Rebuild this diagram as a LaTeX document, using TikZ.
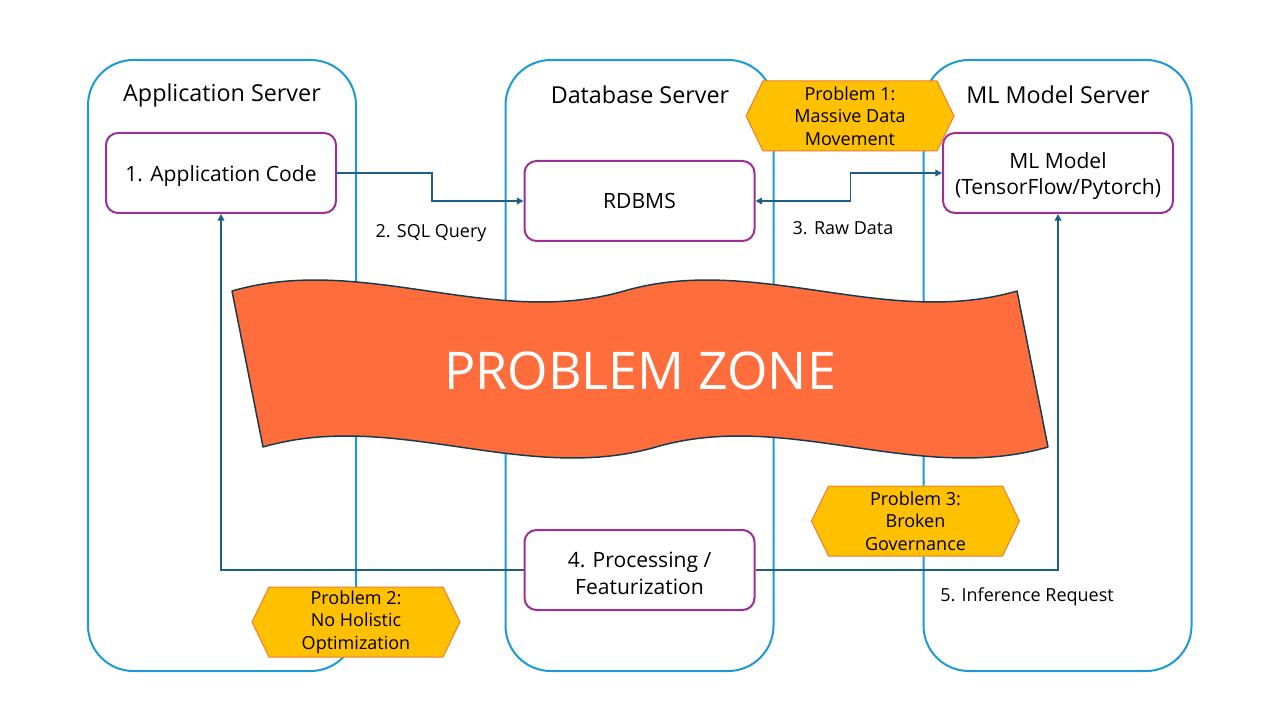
\documentclass[tikz,border=0pt]{standalone}
\usepackage{fontspec}
\setmainfont{Open Sans}
\usetikzlibrary{arrows.meta,calc}
\definecolor{srvblue}{HTML}{1B9AD6}
\definecolor{boxpurple}{HTML}{9E2F94}
\definecolor{arrowblue}{HTML}{1F5F86}
\definecolor{zonefill}{HTML}{FF6D3C}
\definecolor{zoneline}{HTML}{17394D}
\definecolor{hexfill}{HTML}{FFC000}
\definecolor{hexline}{HTML}{ED7D31}
\newcommand{\myhexagon}[2]{\filldraw[hexstyle] (#1-104,#2) -- (#1-87,#2-35) -- (#1+87,#2-35) -- (#1+104,#2) -- (#1+87,#2+35) -- (#1-87,#2+35) -- cycle;}
\newcommand{\lowstrut}{\rule{0pt}{16.5pt}}
\begin{document}
\begin{tikzpicture}[x=0.75pt,y=-0.75pt,
  server/.style={draw=srvblue, line width=1.5pt, rounded corners=34pt, minimum width=201pt, minimum height=458.25pt, inner sep=0pt},
  srvtitle/.style={font=\fontsize{17.5}{21}\selectfont, inner sep=0pt},
  procbox/.style={draw=boxpurple, fill=white, line width=1.5pt, rounded corners=9pt, minimum width=172.5pt, minimum height=60pt, align=center, font=\fontsize{15.8}{20}\selectfont, inner sep=2pt},
  conn/.style={draw=arrowblue, line width=1.2pt, -{Triangle[length=5pt,width=5pt]}},
  lab/.style={font=\fontsize{13.5}{17}\selectfont, inner sep=0pt},
  hexnode/.style={align=center, font=\fontsize{13.5}{17}\selectfont, inner sep=0pt},
  hexstyle/.style={fill=hexfill, draw=hexline, line width=0.75pt},
  zone/.style={fill=zonefill, draw=zoneline, line width=1.1pt, line join=round}]
\fill[white] (0,0) rectangle (1280,720);
\useasboundingbox (0,0) rectangle (1280,720);

% servers
\node[server] (appsrv) at (222,365.5) {};
\node[server] (dbsrv) at (639.5,365.5) {};
\node[server] (mlsrv) at (1057.5,365.5) {};
\node[srvtitle] (apptitle) at (222,95) {Application Server};
\node[srvtitle] (dbtitle) at (640,95) {Database Server};
\node[srvtitle] (mltitle) at (1058,95) {ML Model Server};

% boxes
\node[procbox] (code) at (221,173) {\lowstrut 1. Application Code};
\node[procbox] (rdbms) at (639.5,201) {RDBMS};
\node[procbox] (mlm) at (1058,173) {\lowstrut ML Model\\(TensorFlow/Pytorch)};
\node[procbox] (proc) at (639.5,570) {\lowstrut 4. Processing /\\Featurization};

% connectors
\draw[conn] (code.east) -- ++(95,0) |- (rdbms.west);
\draw[conn,{Triangle[length=5pt,width=5pt]}-{Triangle[length=5pt,width=5pt]}] (rdbms.east) -- ++(95,0) |- (mlm.west);
\draw[conn] (proc.west) -| (code.south);
\draw[conn] (proc.east) -| (mlm.south);
\node[lab] (l2) at (431,233) {2. SQL Query};
\node[lab] (l3) at (843,228) {3. Raw Data};
\node[lab] (l5) at (1027,597) {5. Inference Request};

% problem zone banner
\filldraw[zone] (232,291) .. controls (363,253) and (493,329) .. (624,291) .. controls (755,253) and (886,329) .. (1017,291) -- (1048,447) .. controls (917,485) and (787,409) .. (656,447) .. controls (525,485) and (394,409) .. (263,447) -- cycle;
\node[text=white, font=\fontsize{39}{44}\selectfont, inner sep=0pt] (zonetext) at (640,371) {PROBLEM ZONE};

% problems
\myhexagon{850}{116}
\node[hexnode] (p1) at (850,116) {Problem 1:\\Massive Data\\Movement};
\myhexagon{356}{622}
\node[hexnode] (p2) at (356,622) {Problem 2:\\No Holistic\\Optimization};
\myhexagon{915.5}{521}
\node[hexnode] (p3) at (915.5,521) {Problem 3:\\Broken\\Governance};
\end{tikzpicture}
\end{document}
